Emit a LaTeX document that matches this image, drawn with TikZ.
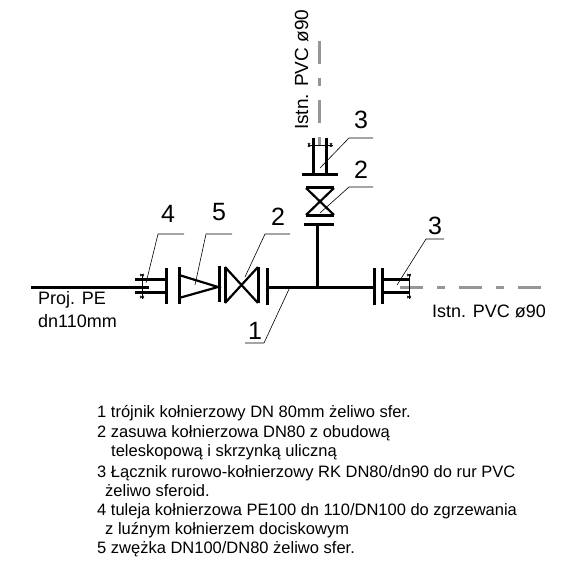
\documentclass[tikz,border=0pt]{standalone}
\usepackage{fontspec}
\setmainfont{Liberation Sans}
\definecolor{oldpipe}{RGB}{150,150,150}
\tikzset{
  pipe/.style={line width=3pt},
  thin pipe/.style={line width=2.2pt},
  oldpipe line/.style={line width=3pt, color=oldpipe, dash pattern=on 23pt off 14pt on 8pt off 14pt},
  leader/.style={line width=0.6pt},
  number/.style={font=\fontsize{25}{25}\selectfont, inner sep=0pt},
  plain label/.style={font=\fontsize{18}{20}\selectfont, inner sep=0pt, anchor=base west},
  list line/.style={font=\fontsize{16.5}{18}\selectfont, inner sep=0pt, anchor=base west},
  pics/valve/.style args={#1 by #2}{
    code={
      \path [draw, pipe] (-#1,-#2) -- (-#1,#2) (#1,-#2) -- (#1,#2);
      \path [draw, thin pipe] (-#1,-#2) -- (#1,#2) (-#1,#2) -- (#1,-#2);
    }
  },
  pics/stub/.style args={#1 bolt #2}{
    code={
      \path [draw, pipe] (0,-18) -- (0,18);
      \path [draw, pipe] (0,-6.5) -- (#1,-6.5) (0,6.5) -- (#1,6.5);
      \path [draw, line width=0.7pt] (#2,-12.5) -- (#2,12.5);
      \foreach \s in {-1,1} {
        \path [draw, line width=0.7pt] (#2-2,\s*10) -- (#2+2,\s*12) (#2-2,\s*12) -- (#2+2,\s*10);
      }
    }
  }
}
\begin{document}
\begin{tikzpicture}[x=1pt,y=-1pt]
  \useasboundingbox (0,0) rectangle (569,561);

  % pipes
  \coordinate (pe start) at (31,287);
  \coordinate (pe end) at (149,287);
  \coordinate (tee left) at (267,287);
  \coordinate (tee) at (317,287);
  \coordinate (tee right) at (374,287);
  \coordinate (tee top) at (317,224);
  \draw [pipe] (pe start) -- (pe end);
  \draw [pipe] (tee left) -- (tee right);
  \draw [pipe] (tee) -- (tee top);
  \draw [pipe] (304,224) -- (334,224);
  \draw [pipe] (267,268) -- (267,305);
  \draw [pipe] (374,268) -- (374,305);

  \draw [oldpipe line] (400,287) -- (545,287);
  \draw [oldpipe line, dash phase=37pt] (319,145) -- (319,39);

  % fittings
  \pic at (166,286) [rotate=180] {stub={31 bolt 24}};
  \pic at (382,286) {stub={28 bolt 27}};
  \pic at (320,175) [rotate=90] {stub={37 bolt 30}};
  \pic at (241.5,285) {valve={16.5 by 18}};
  \pic at (320,201.5) [rotate=90] {valve={13.5 by 14}};
  \draw [pipe] (179,267) -- (179,304);
  \draw [thin pipe] (179,275) -- (218,287) -- (179,298);
  \draw [pipe] (219,266) -- (219,302);

  % leaders
  \draw [leader] (146,283) -- (158,234) -- (184,234);
  \draw [leader] (195,285) -- (206,234) -- (232,234);
  \draw [leader] (245,277) -- (265,234) -- (290,234);
  \draw [leader] (290,287) -- (264,343) -- (245,343);
  \draw [leader] (320,168) -- (349,138) -- (373,138);
  \draw [leader] (320,213) -- (349,187) -- (373,187);
  \draw [leader] (397,285) -- (426,239) -- (444,239);

  % numbers
  \node [number] (num4) at (168,214) {4};
  \node [number] (num5) at (219,212) {5};
  \node [number] (num2a) at (278,217) {2};
  \node [number] (num1) at (255,331) {1};
  \node [number] (num3a) at (361,120) {3};
  \node [number] (num2b) at (361,170) {2};
  \node [number] (num3b) at (435,226) {3};

  % pipe labels
  \node [plain label] (pe1) at (38,304) {Proj. PE};
  \node [plain label] (pe2) at (38,327) {dn110mm};
  \node [plain label] (pvc1) at (432,317) {Istn. PVC ø90};
  \node [plain label, rotate=90, font=\fontsize{19}{20}\selectfont] (pvc2) at (308,130) {Istn. PVC ø90};

  % parts list
  \node [list line] (item1) at (97,417) {1 trójnik kołnierzowy DN 80mm żeliwo sfer.};
  \node [list line] (item2) at (97,437) {2 zasuwa kołnierzowa DN80 z obudową};
  \node [list line] (item2b) at (111,456) {teleskopową i skrzynką uliczną};
  \node [list line] (item3) at (97,477) {3 Łącznik rurowo-kołnierzowy RK DN80/dn90 do rur PVC};
  \node [list line] (item3b) at (105,496) {żeliwo sferoid.};
  \node [list line] (item4) at (97,515) {4 tuleja kołnierzowa PE100 dn 110/DN100 do zgrzewania};
  \node [list line] (item4b) at (105,534) {z luźnym kołnierzem dociskowym};
  \node [list line] (item5) at (97,553) {5 zwężka DN100/DN80 żeliwo sfer.};
\end{tikzpicture}
\end{document}
